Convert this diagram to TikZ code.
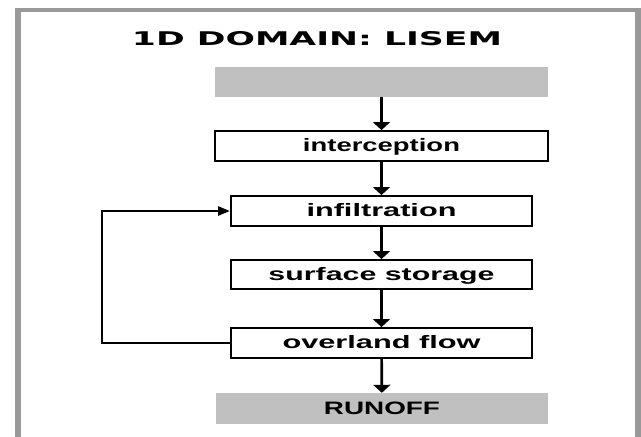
\documentclass[tikz,border=0pt]{standalone}
\usepackage{fontspec}
\usepackage{graphicx}
\usetikzlibrary{arrows.meta}
\setmainfont{Liberation Sans}
\newfontfamily\titlefont{DejaVu Sans}
\definecolor{framegray}{HTML}{999999}
\definecolor{boxgray}{HTML}{C0C0C0}
\newcommand{\fitw}[2]{\resizebox{#1}{\height}{#2}}
\tikzset{
  flowbox/.style={draw=black, line width=1.9pt, fill=white, inner sep=0pt,
    text height=13pt, text depth=2pt, font=\fontsize{18}{18}\selectfont\bfseries},
  greybox/.style={fill=boxgray, inner sep=0pt,
    text height=13pt, text depth=2pt, font=\fontsize{18}{18}\selectfont\bfseries},
  vflow/.style={line width=2.7pt, -{Triangle[length=8pt,width=17pt]}},
  hflow/.style={line width=2.7pt, -{Triangle[length=12pt,width=9pt]}}
}
\begin{document}
\begin{tikzpicture}[x=1pt,y=-1pt]
\useasboundingbox (0,0) rectangle (641,437);
\fill[white] (0,0) rectangle (641,437);
% frame
\fill[framegray] (15,8) rectangle (21,437);
\fill[framegray] (15,8) rectangle (641,12);
\fill[framegray] (635,8) rectangle (641,437);
% title
\node[anchor=base, inner sep=0pt] (title) at (317,45)
  {\resizebox{370pt}{14pt}{\titlefont\bfseries 1D DOMAIN: LISEM}};
% boxes
\node[greybox, minimum width=333pt, minimum height=30pt] (top) at (381.5,82) {};
\node[flowbox, minimum width=333pt, minimum height=30pt] (inter) at (381.5,146) {\fitw{157pt}{interception}};
\node[flowbox, minimum width=301pt, minimum height=30pt] (infil) at (381.5,211) {\fitw{150pt}{infiltration}};
\node[flowbox, minimum width=301pt, minimum height=29pt] (surf) at (381.5,274.5) {\fitw{226pt}{surface storage}};
\node[flowbox, minimum width=301pt, minimum height=30pt] (over) at (381.5,343) {\fitw{198pt}{overland flow}};
\node[greybox, minimum width=332pt, minimum height=31pt] (run) at (382,408.5) {\fitw{116pt}{RUNOFF}};
% connectors
\draw[vflow] (top) -- (inter);
\draw[vflow] (inter) -- (infil);
\draw[vflow] (infil) -- (surf);
\draw[vflow] (surf) -- (over);
\draw[vflow] (over) -- (run);
\coordinate (fb) at (102,343);
\draw[hflow] (over.west) -- (fb) |- (infil.west);
\end{tikzpicture}
\end{document}
